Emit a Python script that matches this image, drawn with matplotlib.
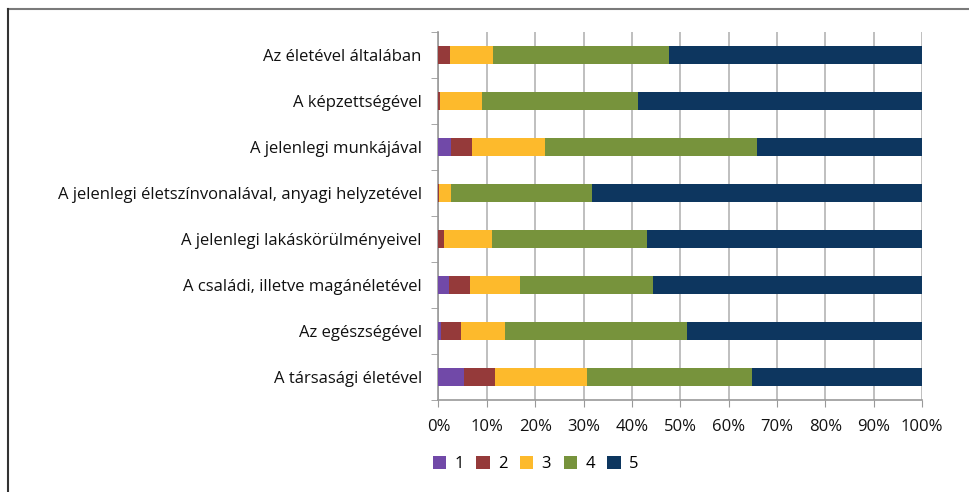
import numpy as np
import matplotlib
matplotlib.use('Agg')
import matplotlib.pyplot as plt
from matplotlib.lines import Line2D

plt.rcParams['font.family'] = ['Open Sans', 'DejaVu Sans']

# kérdések (felülről lefelé)
categories = [
    "Az életével általában",
    "A képzettségével",
    "A jelenlegi munkájával",
    "A jelenlegi életszínvonalával, anyagi helyzetével",
    "A jelenlegi lakáskörülményeivel",
    "A családi, illetve magánéletével",
    "Az egészségével",
    "A társasági életével",
]
series_names = ["1", "2", "3", "4", "5"]

# megoszlás százalékban, osztályzatonként
v1 = [0.0, 0.0, 2.6, 0.0, 0.0, 2.2, 0.5, 5.3]
v2 = [2.4, 0.3, 4.3, 0.2, 1.2, 4.3, 4.2, 6.4]
v3 = [8.8, 8.6, 15.1, 2.4, 9.8, 10.4, 9.1, 19.0]
v4 = [36.4, 32.3, 43.8, 29.2, 32.2, 27.4, 37.5, 34.1]
v5 = [52.4, 58.8, 34.2, 68.2, 56.8, 55.7, 48.7, 35.2]

colors = ["#7149a8", "#953a3a", "#fdba2c", "#77933c", "#0d365f"]

fig = plt.figure(figsize=(9.7, 4.92), dpi=100)
ax = fig.add_axes([438.5 / 970, 1 - 400 / 492, (922 - 438.5) / 970, (400 - 32) / 492])

y = np.arange(len(categories))
left = np.zeros(len(categories))
for vals, name, c in zip([v1, v2, v3, v4, v5], series_names, colors):
    ax.barh(y, vals, left=left, height=0.4, color=c, label=name, zorder=3)
    left += np.array(vals)

ax.set_xlim(0, 100)
ax.set_ylim(len(categories) - 0.5, -0.5)
ax.set_xticks(np.arange(0, 101, 10))
ax.set_xticklabels([f"{t}%" for t in range(0, 101, 10)], fontsize=12, color="#111111")
ax.set_yticks(y)
ax.set_yticklabels(categories, fontsize=12, color="#111111")
ax.set_yticks(np.arange(-0.5, len(categories), 1), minor=True)
ax.tick_params(axis='y', which='major', length=0, pad=12)
ax.tick_params(axis='y', which='minor', length=5, color="#999999", direction='out')
ax.tick_params(axis='x', length=5, color="#999999", direction='out', pad=9)

ax.grid(axis='x', color="#b4b4b4", linewidth=1.2, zorder=0)
for s in ['top', 'right']:
    ax.spines[s].set_visible(False)
for s in ['left', 'bottom']:
    ax.spines[s].set_color("#999999")
    ax.spines[s].set_linewidth(1.2)

leg = fig.legend(loc='center left', bbox_to_anchor=(426 / 970, 1 - 464 / 492), ncol=5,
                 frameon=False, fontsize=12, handlelength=0.8, handleheight=0.8,
                 handletextpad=0.5, columnspacing=0.75, borderaxespad=0)

# keret a diagram körül
fig.add_artist(Line2D([8 / 970, 1], [1 - 8.5 / 492] * 2, color="#7a7a7a", lw=1.5))
fig.add_artist(Line2D([8.5 / 970] * 2, [0, 1 - 8.5 / 492], color="#333333", lw=1.5))

fig.savefig("out.png", dpi=100)
